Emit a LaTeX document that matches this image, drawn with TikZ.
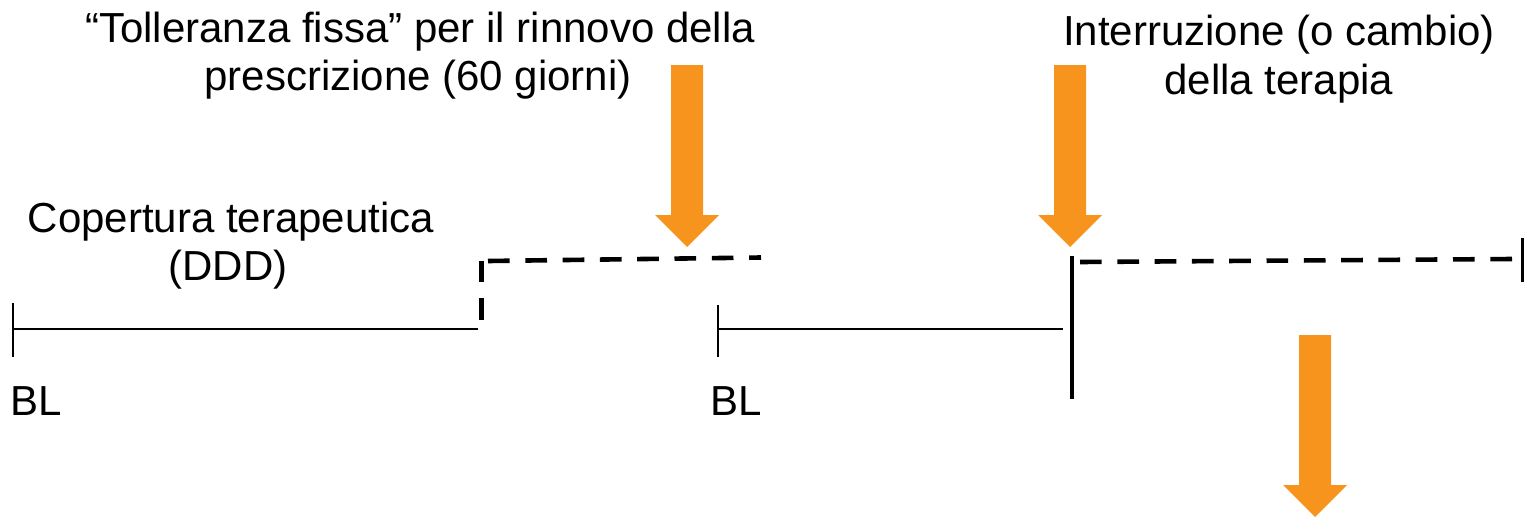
\documentclass[tikz,border=0pt]{standalone}
\usepackage{fontspec}
\setmainfont{Liberation Sans}
\definecolor{arroworange}{HTML}{F7941D}
\begin{document}
\begin{tikzpicture}[x=1pt,y=-1pt,
  lbl/.style={inner sep=0pt, font=\fontsize{42}{48}\selectfont, anchor=base},
  lblw/.style={lbl, anchor=base west},
  thinline/.style={line width=2pt},
  tickline/.style={line width=2.4pt},
  thickline/.style={line width=4.8pt},
  dashline/.style={line width=4.6pt, dash pattern=on 21.7pt off 15.6pt},
  bigarrow/.pic={\fill[arroworange] (-16,0) -- (16,0) -- (16,150) -- (32,150) -- (0,182) -- (-32,150) -- (-16,150) -- cycle;}
]
\useasboundingbox (0,0) rectangle (1524,517);

% texts
\node[lbl] (tol1) at (420,42) {“Tolleranza fissa” per il rinnovo della};
\node[lbl] (tol2) at (418,90) {prescrizione (60 giorni)};
\node[lbl] (int1) at (1279,45) {Interruzione (o cambio)};
\node[lbl] (int2) at (1279,94) {della terapia};
\node[lbl] (cop1) at (231,232) {Copertura terapeutica};
\node[lbl] (cop2) at (228,280) {(DDD)};
\node[lblw] (bl1) at (10,415) {BL};
\node[lblw] (bl2) at (710,415) {BL};

% first coverage period
\coordinate (t1top) at (13,303);
\coordinate (t1bot) at (13,357);
\draw[tickline] (t1top) -- (t1bot);
\coordinate (l1s) at (13,329);
\coordinate (l1e) at (478,329);
\draw[thinline] (l1s) -- (l1e);

% fixed tolerance (dashed)
\coordinate (d1t) at (481.5,260.7);
\coordinate (d1b) at (481.5,319.7);
\draw[dashline] (d1t) -- (d1b);
\coordinate (d2s) at (488,261);
\coordinate (d2e) at (761,257.5);
\draw[dashline] (d2s) -- (d2e);

% second coverage period
\coordinate (t2top) at (718,305);
\coordinate (t2bot) at (718,357);
\draw[tickline] (t2top) -- (t2bot);
\coordinate (l2s) at (718,329);
\coordinate (l2e) at (1063,329);
\draw[thinline] (l2s) -- (l2e);

% interruption
\coordinate (stopt) at (1072,256);
\coordinate (stopb) at (1072,399);
\draw[thickline] (stopt) -- (stopb);
\coordinate (d3s) at (1080,262);
\coordinate (d3e) at (1513,259);
\draw[dashline] (d3s) -- (d3e);
\coordinate (endt) at (1522,238);
\coordinate (endb) at (1522,282);
\draw[line width=3pt] (endt) -- (endb);

% orange arrows
\pic (arrA) at (687,65) {bigarrow};
\pic (arrB) at (1070,65) {bigarrow};
\pic (arrC) at (1315,335) {bigarrow};
\end{tikzpicture}
\end{document}
